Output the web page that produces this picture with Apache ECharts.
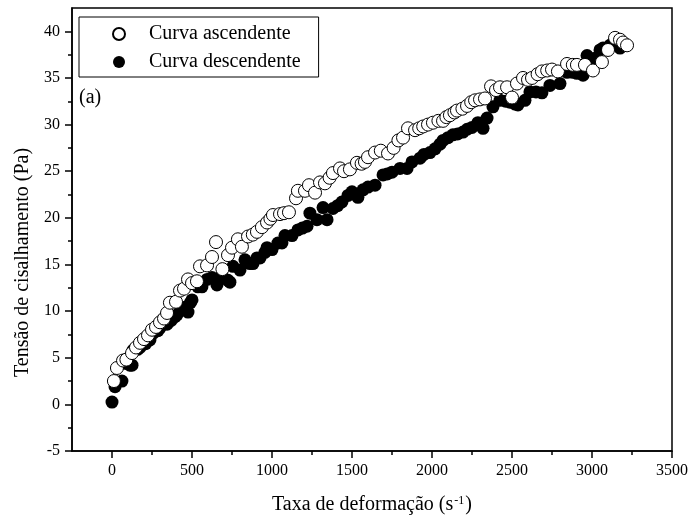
<!DOCTYPE html>
<html>
<head>
<meta charset="utf-8">
<script src="https://cdn.jsdelivr.net/npm/echarts@6/dist/echarts.min.js"></script>
<style>
  html, body { margin: 0; padding: 0; background: #fff; }
  #chart { width: 691px; height: 521px; }
</style>
</head>
<body>
<div id="chart"></div>
<script>
// Shear rate (s^-1) and shear stress (Pa), rising ramp
const ascX = [12, 31, 69, 90, 125, 150, 175, 200, 225, 250, 275, 300, 325, 344, 362, 400, 425, 450, 475, 500,
  531, 550, 594, 625, 650, 690, 725, 750, 787, 812, 850, 880, 906, 937, 969, 990, 1006, 1050, 1075, 1106,
  1150, 1162, 1206, 1231, 1269, 1300, 1331, 1360, 1381, 1425, 1450, 1487, 1531, 1560, 1581, 1600, 1644, 1680, 1725, 1760,
  1790, 1819, 1850, 1894, 1920, 1945, 1975, 2006, 2040, 2069, 2090, 2112, 2140, 2156, 2190, 2219, 2245, 2269, 2300, 2331,
  2369, 2400, 2425, 2469, 2500, 2531, 2569, 2600, 2625, 2660, 2687, 2720, 2750, 2787, 2844, 2880, 2906, 2956, 3006, 3062,
  3100, 3144, 3175, 3194, 3219];
const ascY = [2.5, 3.9, 4.7, 4.8, 5.5, 6.1, 6.6, 7.0, 7.4, 8.0, 8.3, 8.8, 9.2, 9.8, 10.9, 11.0, 12.2, 12.4, 13.4, 13.0,
  13.2, 14.8, 14.9, 15.8, 17.4, 14.5, 16.0, 16.8, 17.7, 16.9, 18.0, 18.2, 18.5, 19.0, 19.5, 19.9, 20.3, 20.4, 20.5, 20.6,
  22.1, 22.9, 22.9, 23.5, 22.7, 23.8, 23.7, 24.3, 24.8, 25.3, 25.0, 25.2, 25.9, 25.8, 26.0, 26.5, 27.0, 27.2, 26.9, 27.5,
  28.3, 28.6, 29.6, 29.4, 29.6, 29.8, 30.0, 30.2, 30.4, 30.4, 30.8, 31.0, 31.3, 31.5, 31.7, 32.0, 32.4, 32.6, 32.7, 32.8,
  34.1, 33.7, 34.0, 34.0, 32.9, 34.4, 35.0, 34.8, 35.0, 35.4, 35.7, 35.8, 35.9, 35.7, 36.5, 36.4, 36.4, 36.4, 35.8, 36.7,
  38.0, 39.3, 39.1, 38.8, 38.5];

// Falling ramp
const descX = [0, 19, 62, 81, 112, 125, 131, 160, 175, 210, 237, 256, 287, 300, 344, 370, 394, 406, 430, 456,
  475, 490, 500, 537, 562, 594, 625, 656, 687, 725, 737, 756, 800, 831, 862, 881, 906, 925, 956, 969,
  1000, 1037, 1062, 1081, 1125, 1162, 1190, 1219, 1237, 1281, 1319, 1344, 1381, 1410, 1437, 1475, 1500, 1537, 1569, 1600,
  1644, 1694, 1720, 1750, 1800, 1844, 1875, 1925, 1950, 1987, 2019, 2050, 2069, 2100, 2131, 2160, 2194, 2220, 2250, 2287,
  2319, 2344, 2381, 2425, 2460, 2487, 2520, 2537, 2581, 2612, 2650, 2687, 2737, 2800, 2844, 2881, 2906, 2944, 2969, 3019,
  3050, 3069, 3112, 3131, 3175];
const descY = [0.25, 1.9, 2.5, 4.4, 4.2, 4.2, 5.8, 5.9, 6.1, 6.5, 6.9, 7.6, 7.9, 8.2, 8.6, 9.0, 9.4, 9.6, 10.1, 10.4,
  9.9, 10.9, 11.2, 12.6, 12.6, 13.4, 13.6, 12.8, 13.9, 13.3, 13.1, 14.8, 14.4, 15.5, 15.1, 15.1, 15.7, 15.7, 16.3, 16.8,
  16.6, 17.3, 17.3, 18.1, 18.1, 18.7, 18.9, 19.1, 20.5, 19.8, 21.1, 19.8, 21.0, 21.3, 21.7, 22.4, 22.8, 22.2, 23.0, 23.3,
  23.5, 24.6, 24.7, 24.9, 25.3, 25.3, 26.0, 26.4, 26.8, 27.0, 27.4, 27.9, 28.3, 28.6, 28.9, 29.0, 29.2, 29.5, 29.7, 30.2,
  29.6, 30.7, 31.9, 32.6, 32.5, 32.4, 32.2, 32.1, 32.6, 33.5, 33.5, 33.4, 34.2, 34.4, 35.6, 35.6, 35.5, 35.3, 37.4, 37.1,
  38.0, 38.2, 38.5, 38.7, 38.2];

const xTicks = [0, 500, 1000, 1500, 2000, 2500, 3000, 3500];
const xMinorTicks = [250, 750, 1250, 1750, 2250, 2750, 3250];
const yTicks = [-5, 0, 5, 10, 15, 20, 25, 30, 35, 40];
const yMinorTicks = [-2.5, 2.5, 7.5, 12.5, 17.5, 22.5, 27.5, 32.5, 37.5];

const FONT = 'Liberation Serif';
const AXIS_COLOR = '#000';

const chart = echarts.init(document.getElementById('chart'), null, { renderer: 'canvas' });

const lineStyle = { color: AXIS_COLOR, width: 1.5 };
const plain = v => String(v);

chart.setOption({
  animation: false,
  backgroundColor: '#fff',
  grid: {
    left: 72, right: 19, top: 8, bottom: 70,
    show: true, borderColor: AXIS_COLOR, borderWidth: 1.5,
    outerBoundsMode: 'none'
  },
  legend: {
    orient: 'vertical',
    left: 79, top: 17,
    borderColor: AXIS_COLOR, borderWidth: 1,
    padding: [7, 18, 5, 33],
    itemWidth: 12, itemHeight: 12, itemGap: 8,
    textStyle: { fontFamily: FONT, fontSize: 20, color: '#000', lineHeight: 20, padding: [0, 0, 0, 19] },
    data: ['Curva ascendente', 'Curva descendente']
  },
  graphic: [{
    type: 'text', left: 79, top: 88,
    style: { text: '(a)', font: '20px "Liberation Serif"', fill: '#000' }
  }],
  xAxis: [{
    type: 'value', min: -250, max: 3500, position: 'bottom',
    axisLine: { show: true, onZero: false, lineStyle },
    axisTick: { show: true, inside: false, length: 7, customValues: xTicks, lineStyle },
    axisLabel: { customValues: xTicks, formatter: plain, fontFamily: FONT, fontSize: 16, color: '#000', margin: 12 },
    splitLine: { show: false },
    name: 'Taxa de deformação (s{sup|-1})',
    nameLocation: 'middle', nameGap: 44,
    nameTextStyle: {
      fontFamily: FONT, fontSize: 20, color: '#000',
      rich: { sup: { fontFamily: FONT, fontSize: 12, verticalAlign: 'top', color: '#000', padding: [0, 1, 8, 1] } }
    }
  }, {
    type: 'value', min: -250, max: 3500, position: 'bottom',
    axisLine: { show: false, onZero: false },
    axisTick: { show: true, inside: false, length: 4, customValues: xMinorTicks, lineStyle },
    axisLabel: { show: false },
    splitLine: { show: false }
  }],
  yAxis: [{
    type: 'value', min: -5, max: 42.5, position: 'left',
    axisLine: { show: true, onZero: false, lineStyle },
    axisTick: { show: true, inside: false, length: 7, customValues: yTicks, lineStyle },
    axisLabel: { customValues: yTicks, formatter: plain, fontFamily: FONT, fontSize: 16, color: '#000', margin: 12 },
    splitLine: { show: false },
    name: 'Tensão de cisalhamento (Pa)',
    nameLocation: 'middle', nameGap: 38, nameRotate: 90,
    nameTextStyle: { fontFamily: FONT, fontSize: 20, color: '#000', padding: [0, 66, 0, 0] }
  }, {
    type: 'value', min: -5, max: 42.5, position: 'left',
    axisLine: { show: false, onZero: false },
    axisTick: { show: true, inside: false, length: 4, customValues: yMinorTicks, lineStyle },
    axisLabel: { show: false },
    splitLine: { show: false }
  }],
  series: [{
    name: 'Curva descendente',
    type: 'scatter',
    xAxisIndex: 0, yAxisIndex: 0,
    symbol: 'circle', symbolSize: 13,
    itemStyle: { color: '#000', borderColor: '#000', borderWidth: 0, opacity: 1 },
    z: 2,
    data: descX.map((x, i) => [x, descY[i]])
  }, {
    name: 'Curva ascendente',
    type: 'scatter',
    xAxisIndex: 0, yAxisIndex: 0,
    symbol: 'circle', symbolSize: 13,
    itemStyle: { color: '#fff', borderColor: '#000', borderWidth: 1, opacity: 1 },
    z: 3,
    data: ascX.map((x, i) => [x, ascY[i]])
  }]
});
</script>
</body>
</html>
